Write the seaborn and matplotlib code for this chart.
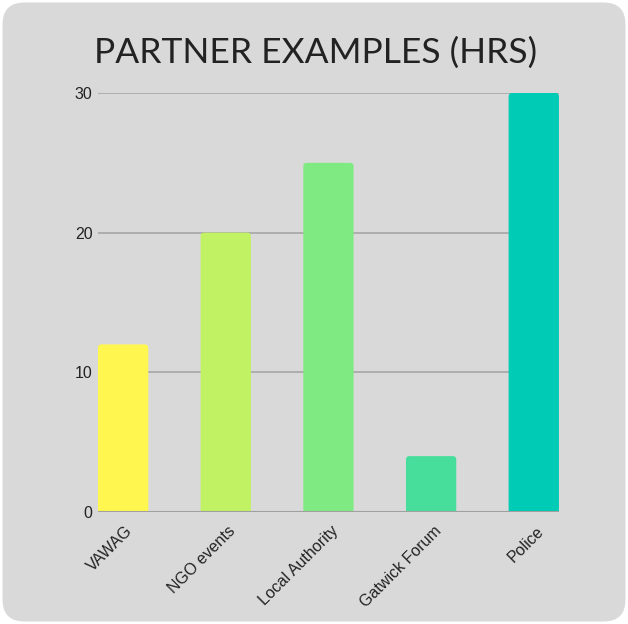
import seaborn as sns
import pandas as pd
from matplotlib import pyplot as plt
from matplotlib import transforms
from matplotlib.patches import FancyBboxPatch

#------------------------------------------------------------------------------
# Data
#------------------------------------------------------------------------------
partners = ['VAWAG', 'NGO events', 'Local Authority', 'Gatwick Forum', 'Police']
hours = [12, 20, 25, 4, 30]
colors = ['#fff74f', '#c0f263', '#80ea82', '#47de9b', '#00cbb5']
yticks = [0, 10, 20, 30]

df = pd.DataFrame({'partner': partners, 'hours': hours})

#------------------------------------------------------------------------------
# Plot figure
#------------------------------------------------------------------------------
sns.set_style('white')
plt.rcParams['font.family'] = ['Liberation Sans', 'DejaVu Sans']

fig = plt.figure(figsize=(6.28, 6.24), dpi=100, facecolor='white')
bg = FancyBboxPatch((0.004, 0.004), 0.992, 0.992, boxstyle='round,pad=0,rounding_size=0.035',
                    transform=fig.transFigure, facecolor='#d9d9d9', edgecolor='none', zorder=-10)
fig.patches.append(bg)

ax = fig.add_axes([0.156, 0.1795, 0.734, 0.6715])
ax.set_facecolor('none')
sns.barplot(data=df, x='partner', y='hours', hue='partner', palette=colors,
            width=0.49, saturation=1, linewidth=0, legend=False, ax=ax, zorder=3)

ax.set_xlim(-0.245, 4.245)
ax.set_ylim(0, 30)

# round the top corners of the bars (bottom is hidden below the axis)
for p in list(ax.patches):
    x0, w, h = p.get_x(), p.get_width(), p.get_height()
    rb = FancyBboxPatch((x0, -1), w, h + 1, boxstyle='round,pad=0,rounding_size=0.035',
                        mutation_aspect=7.0, facecolor=p.get_facecolor(),
                        edgecolor='none', zorder=3)
    p.remove()
    ax.add_patch(rb)

ax.set_yticks(yticks)
ax.set_yticklabels([str(t) for t in yticks], fontsize=11.5, color='#222222')
ax.yaxis.grid(True, color='#a6a6a6', linewidth=1.2, zorder=0)
ax.axhline(0, color='#a0a0a0', linewidth=1.5, zorder=4)
ax.tick_params(axis='both', length=0, pad=4)
ax.tick_params(axis='x', pad=8)
shift = transforms.ScaledTranslation(0.075, -0.055, fig.dpi_scale_trans)
for lbl in ax.get_xticklabels():
    lbl.set_rotation(45)
    lbl.set_ha('right')
    lbl.set_va('center')
    lbl.set_rotation_mode('anchor')
    lbl.set_fontsize(11.5)
    lbl.set_color('#222222')
    lbl.set_transform(lbl.get_transform() + shift)
ax.set_xlabel('')
ax.set_ylabel('')
for s in ax.spines.values():
    s.set_visible(False)

fig.text(0.502, 0.916, 'PARTNER EXAMPLES (HRS)', ha='center', va='center',
         fontsize=25.5, color='#222222', family=['Lato', 'DejaVu Sans'])

#------------------------------------------------------------------------------
# Save figure
#------------------------------------------------------------------------------
plt.savefig('out.png', dpi=100, facecolor='white')
